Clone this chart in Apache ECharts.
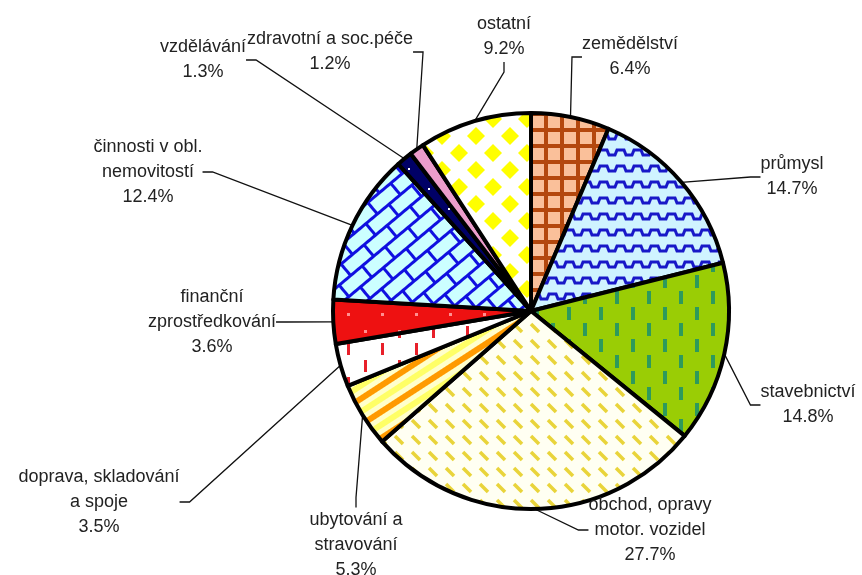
<!DOCTYPE html>
<html><head><meta charset="utf-8">
<script src="https://cdn.jsdelivr.net/npm/echarts@6/dist/echarts.min.js"></script>
<style>html,body{margin:0;padding:0;background:#fff}#c{width:862px;height:575px}</style>
</head><body><div id="c"></div>
<script>
// ---- data ----
const categories = ['zemědělství', 'průmysl', 'stavebnictví', 'obchod, opravy\nmotor. vozidel', 'ubytování a\nstravování', 'doprava, skladování\na spoje', 'finanční\nzprostředkování', 'činnosti v obl.\nnemovitostí', 'vzdělávání', 'zdravotní a soc.péče', 'ostatní'];
const shares = [6.4, 14.7, 14.8, 27.7, 5.3, 3.5, 3.6, 12.4, 1.3, 1.2, 9.2];
// label block centres (layout, not data)
const labelCenters = [[630, 57], [792, 177], [808, 405], [650, 530], [356, 545], [99, 502], [212, 322], [148, 172], [203, 60], [330, 52], [504, 37]];

// ---- pattern tiles ----
function tile(w, h, draw) { const c = document.createElement('canvas'); c.width = w; c.height = h; const g = c.getContext('2d'); draw(g, w, h); return c; }
function pat(canvas, rotDeg) { return { image: canvas, repeat: 'repeat', rotation: (rotDeg || 0) * Math.PI / 180 }; }

const fills = [
  // zemědělství - grid
  pat(tile(16, 16, (g) => { g.fillStyle = '#FAC09A'; g.fillRect(0, 0, 16, 16); g.fillStyle = '#B4480E'; g.fillRect(0, 0, 16, 4); g.fillRect(0, 0, 4, 16); })),
  // průmysl - waves
  pat(tile(17, 16, (g) => { g.fillStyle = '#CFF3FF'; g.fillRect(0, 0, 17, 16); g.strokeStyle = '#1818C8'; g.lineWidth = 3; g.beginPath(); g.moveTo(0, 11); g.lineTo(3, 11); g.lineTo(5, 6); g.lineTo(12, 6); g.lineTo(14, 11); g.lineTo(17, 11); g.stroke(); })),
  // stavebnictví - green dashes
  pat(tile(32, 32, (g) => { g.fillStyle = '#9ACD05'; g.fillRect(0, 0, 32, 32); g.fillStyle = '#2E9A5C'; g.fillRect(7, 3, 4, 13); g.fillRect(23, 19, 4, 13); })),
  // obchod - diagonal yellow dashes
  pat(tile(17, 16, (g) => { g.fillStyle = '#FFFFF2'; g.fillRect(0, 0, 17, 16); g.strokeStyle = '#E9D43A'; g.lineWidth = 3.5; g.beginPath(); g.moveTo(4, 4); g.lineTo(12, 12); g.stroke(); })),
  // ubytování - stripes
  pat(tile(4, 22, (g) => { g.fillStyle = '#FF9A00'; g.fillRect(0, 0, 4, 6); g.fillStyle = '#FFFFCC'; g.fillRect(0, 6, 4, 5); g.fillStyle = '#FFFF66'; g.fillRect(0, 11, 4, 6); g.fillStyle = '#FFFFCC'; g.fillRect(0, 17, 4, 5); }), -33),
  // doprava - red dashes on white
  pat(tile(34, 34, (g) => { g.fillStyle = '#FFFFFF'; g.fillRect(0, 0, 34, 34); g.fillStyle = '#E8202A'; g.fillRect(7, 3, 3, 12); g.fillRect(24, 20, 3, 12); })),
  // finanční - red with dots
  pat(tile(34, 34, (g) => { g.fillStyle = '#EE1111'; g.fillRect(0, 0, 34, 34); g.fillStyle = '#FF9090'; g.fillRect(7, 7, 3, 3); g.fillRect(24, 24, 3, 3); })),
  // činnosti - bricks
  pat(tile(30, 30, (g) => { g.fillStyle = '#CCFFFF'; g.fillRect(0, 0, 30, 30); g.fillStyle = '#1010E0'; g.fillRect(0, 0, 30, 3); g.fillRect(0, 15, 30, 3); g.fillRect(0, 0, 3, 15); g.fillRect(15, 15, 3, 15); }), -40),
  // vzdělávání - navy
  pat(tile(20, 20, (g) => { g.fillStyle = '#000066'; g.fillRect(0, 0, 20, 20); g.fillStyle = '#FFFFFF'; g.fillRect(8, 8, 2, 2); })),
  // zdravotní - pink
  '#EC9CCB',
  // ostatní - diamonds
  pat(tile(34, 34, (g) => { g.fillStyle = '#FFFFFF'; g.fillRect(0, 0, 34, 34); g.fillStyle = '#FFFF00'; [[0, 0], [34, 0], [0, 34], [34, 34], [17, 17]].forEach(([x, y]) => { g.beginPath(); g.moveTo(x, y - 9); g.lineTo(x + 9, y); g.lineTo(x, y + 9); g.lineTo(x - 9, y); g.closePath(); g.fill(); }); }))
];

const chart = echarts.init(document.getElementById('c'), null, { renderer: 'canvas' });
chart.setOption({
  backgroundColor: '#ffffff',
  animation: false,
  series: [{
    type: 'pie',
    center: [531, 311],
    radius: 198,
    startAngle: 90,
    clockwise: true,
    avoidLabelOverlap: false,
    silent: true,
    emphasis: { disabled: true },
    itemStyle: { borderColor: '#000', borderWidth: 4 },
    label: {
      show: true, position: 'outside',
      fontFamily: 'Liberation Sans, Arial, sans-serif', fontSize: 18, lineHeight: 25, color: '#222',
      align: 'center',
      formatter: (p) => p.name + '\n' + p.value.toFixed(1) + '%'
    },
    labelLine: { show: true, length: 10, length2: 10, minTurnAngle: 0, lineStyle: { color: '#111', width: 1.3 } },
    labelLayout: (p) => ({ x: labelCenters[p.dataIndex][0], y: labelCenters[p.dataIndex][1], align: 'center', verticalAlign: 'middle' }),
    data: categories.map((name, i) => ({ name, value: shares[i], itemStyle: { color: fills[i] } }))
  }]
});
</script></body></html>
